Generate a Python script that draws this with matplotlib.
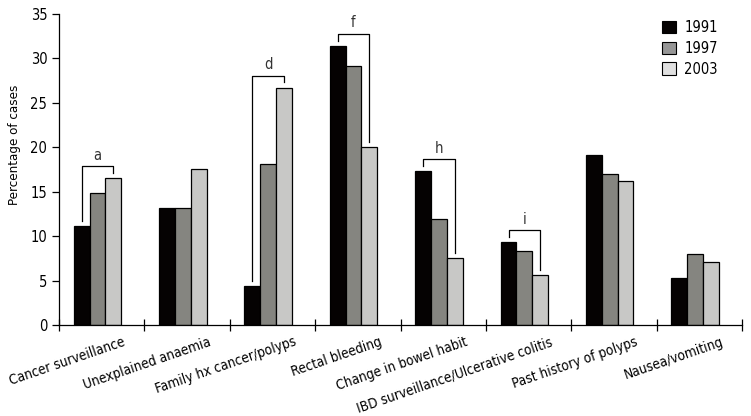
import numpy as np
import matplotlib
matplotlib.use("Agg")
import matplotlib.pyplot as plt
from matplotlib.patches import Patch
from matplotlib.transforms import ScaledTranslation

# reasons for colonoscopy, % of cases per year
categories = ["Cancer surveillance", "Unexplained anaemia", "Family hx cancer/polyps",
              "Rectal bleeding", "Change in bowel habit",
              "IBD surveillance/Ulcerative colitis", "Past history of polyps",
              "Nausea/vomiting"]
years = ["1991", "1997", "2003"]
pct_1991 = [11.1, 13.2, 4.4, 31.4, 17.3, 9.3, 19.1, 5.3]
pct_1997 = [14.9, 13.2, 18.1, 29.2, 11.9, 8.3, 17.0, 8.0]
pct_2003 = [16.5, 17.6, 26.7, 20.0, 7.5, 5.6, 16.2, 7.1]

# significance brackets (1991 vs 2003)
sig_idx = [0, 2, 3, 4, 5]
sig_labels = ["a", "d", "f", "h", "i"]

bar_colors = ["#050202", "#858580", "#c8c8c6"]
legend_colors = ["#050202", "#969696", "#e0e0e0"]

plt.rcParams["font.family"] = ["DejaVu Sans"]
plt.rcParams["font.stretch"] = "condensed"

fig = plt.figure(figsize=(7.51, 4.16), dpi=100)
ax = fig.add_axes([0.0786, 0.2188, 0.9094, 0.7475])

x = np.arange(len(categories)) + 0.45
w = 0.185
series = [pct_1991, pct_1997, pct_2003]
for k, vals in enumerate(series):
    ax.bar(x + (k - 1) * w, vals, w, color=bar_colors[k],
           edgecolor="black", linewidth=0.9)

for i, lab in zip(sig_idx, sig_labels):
    x0, x1 = x[i] - w, x[i] + w
    y0 = pct_1991[i] + 0.6
    y1 = pct_2003[i] + 0.6
    top = max(pct_1991[i], pct_2003[i]) + 1.35
    ax.plot([x0, x0, x1, x1], [y0, top, top, y1], color="black", lw=0.9)
    ax.text((x0 + x1) / 2, top + 0.4, lab, ha="center", va="bottom",
            fontsize=10.5, color="#333333")

ax.set_xlim(0, len(categories))
ax.set_ylim(0, 35)
ax.set_yticks(np.arange(0, 36, 5))
ax.set_xticks(np.arange(0, len(categories) + 1))
ax.set_xticklabels([])
ax.set_xticks(np.arange(len(categories)) + 0.5, minor=True)
ax.set_xticklabels(categories, minor=True, rotation=19, ha="right",
                   va="top", rotation_mode="anchor", fontsize=9.8)
ax.tick_params(axis="x", which="major", direction="inout", length=9, width=0.9)
ax.tick_params(axis="x", which="minor", length=0, pad=7)
ax.tick_params(axis="y", direction="out", length=5, width=0.9, labelsize=10.5)
offset = ScaledTranslation(21 / 100, 0, fig.dpi_scale_trans)
for lbl in ax.get_xticklabels(minor=True):
    lbl.set_transform(lbl.get_transform() + offset)

for side in ["top", "right"]:
    ax.spines[side].set_visible(False)
for side in ["left", "bottom"]:
    ax.spines[side].set_linewidth(0.9)

ax.set_ylabel("Percentage of cases", fontsize=9.5)
ax.yaxis.set_label_coords(-0.056, 0.58)

handles = [Patch(facecolor=c, edgecolor="black", linewidth=0.8) for c in legend_colors]
ax.legend(handles, years, loc="upper left", bbox_to_anchor=(0.875, 1.0),
          frameon=False, fontsize=10.5, handlelength=0.9, handleheight=0.9,
          handletextpad=0.6, labelspacing=0.4, borderaxespad=0)

fig.savefig("out.png", dpi=100)
